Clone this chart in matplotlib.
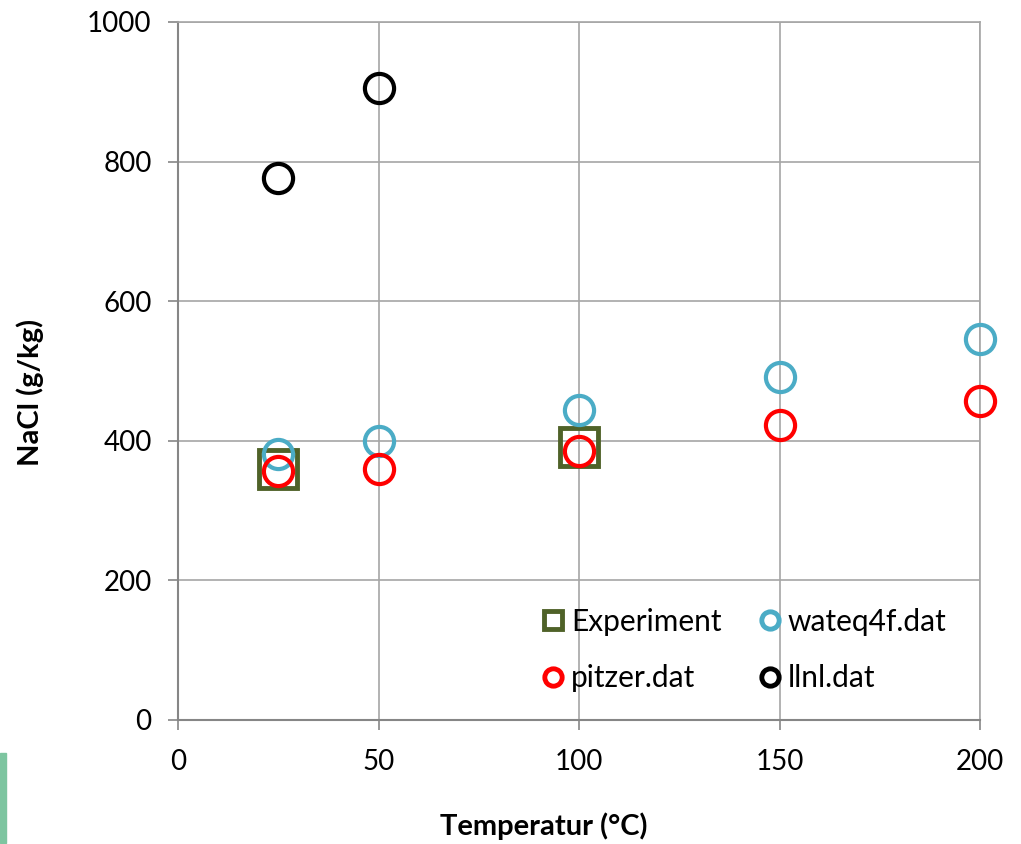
import numpy as np
import matplotlib.pyplot as plt
import matplotlib.patches as patches

# values
exp_T = [25, 100]
exp_nacl = [360, 391]

wateq_T = [25, 50, 100, 150, 200]
wateq_nacl = [381, 400, 444, 491, 546]

pitzer_T = [25, 50, 100, 150, 200]
pitzer_nacl = [357, 360, 385, 423, 457]

llnl_T = [25, 50]
llnl_nacl = [777, 905]

plt.rcParams['font.family'] = ['Lato', 'DejaVu Sans']

fig = plt.figure(figsize=(10.21, 8.44), dpi=100)
ax = fig.add_axes([178/1021, 124/844, (980-178)/1021, (720-22)/844])

h_exp, = ax.plot(exp_T, exp_nacl, ls='none', marker='s', ms=28, mfc='none', mec='#4F6228',
                 mew=3.5, label='Experiment', zorder=3, clip_on=False)
h_wat, = ax.plot(wateq_T, wateq_nacl, ls='none', marker='o', ms=21, mfc='none', mec='#4BACC6',
                 mew=3, label='wateq4f.dat', zorder=3, clip_on=False)
h_pit, = ax.plot(pitzer_T, pitzer_nacl, ls='none', marker='o', ms=21, mfc='none', mec='#FF0000',
                 mew=3, label='pitzer.dat', zorder=4, clip_on=False)
h_lln, = ax.plot(llnl_T, llnl_nacl, ls='none', marker='o', ms=21, mfc='none', mec='#000000',
                 mew=3, label='llnl.dat', zorder=3, clip_on=False)

ax.set_xlim(0, 200)
ax.set_ylim(0, 1000)
ax.set_xticks([0, 50, 100, 150, 200])
ax.set_yticks([0, 200, 400, 600, 800, 1000])
ax.grid(True, color='#A6A6A6', lw=1.2)
ax.set_axisbelow(True)

for s in ['top', 'right']:
    ax.spines[s].set_color('#A6A6A6')
    ax.spines[s].set_linewidth(1.2)
for s in ['left', 'bottom']:
    ax.spines[s].set_color('#868686')
    ax.spines[s].set_linewidth(1.5)

ax.tick_params(axis='both', direction='out', length=7, width=1.2, color='#868686',
               labelsize=20)
ax.tick_params(axis='x', pad=14)
ax.tick_params(axis='y', pad=12)

# labels sit off-centre in the original (Excel layout)
ax.set_xlabel('Temperatur (°C)', fontsize=21, fontweight='bold')
ax.xaxis.set_label_coords((544-178)/802, -0.132)
ax.set_ylabel('NaCl (g/kg)', fontsize=21, fontweight='bold')
ax.yaxis.set_label_coords(-0.167, (720-392)/698)

# column-wise fill, so order gives rows: Experiment / wateq4f, pitzer / llnl
leg = ax.legend([h_exp, h_pit, h_wat, h_lln], ['Experiment', 'pitzer.dat', 'wateq4f.dat', 'llnl.dat'],
                ncol=2, frameon=False, fontsize=21.5, loc='lower right',
                bbox_to_anchor=(0.958, 0.04), borderaxespad=0, borderpad=0,
                handletextpad=0.15, columnspacing=1.15, labelspacing=0.95, handlelength=0.9)
for h in leg.legend_handles:
    h.set_markersize(13.5 if h.get_marker() == 's' else 12.5)
    h.set_markeredgewidth(3.5)

# green strip at lower left edge of the picture
fig.patches.append(patches.Rectangle((0, 1/844), 6/1021, 90/844, transform=fig.transFigure,
                                     color='#7DC5A0', zorder=0))

fig.savefig('out.png', dpi=100)
